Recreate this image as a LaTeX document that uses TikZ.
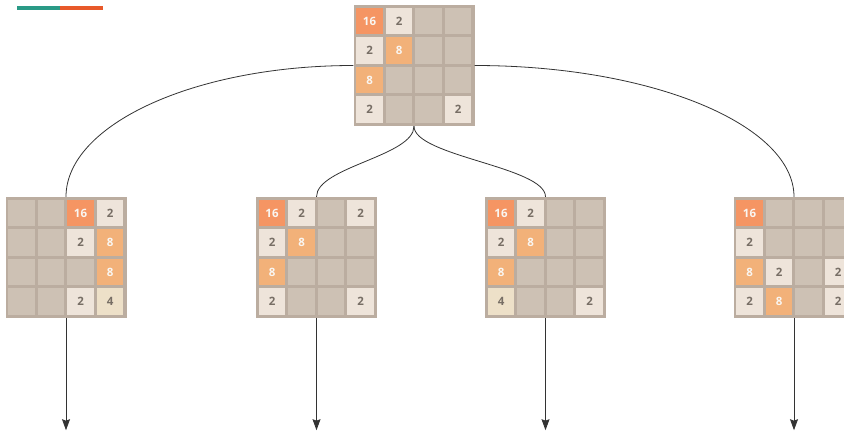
\documentclass[tikz,border=0pt]{standalone}
\usepackage{fontspec}
\setsansfont{Open Sans}
\usetikzlibrary{calc, arrows.meta, positioning}

\definecolor{gridbg}{HTML}{BBADA0}
\definecolor{emptycell}{HTML}{CDC1B4}
\definecolor{tiletwo}{HTML}{EEE4DA}
\definecolor{tilefour}{HTML}{EDE0C8}
\definecolor{tileeight}{HTML}{F2B179}
\definecolor{tilesixteen}{HTML}{F59563}
\definecolor{darknum}{HTML}{776E65}
\definecolor{lightnum}{HTML}{F9F6F2}
\definecolor{barteal}{HTML}{2A9A86}
\definecolor{barorange}{HTML}{E8592A}

\tikzset{
  board/.style={fill=gridbg, minimum size=121pt, inner sep=0pt},
  cell/.style={minimum size=26.5pt, inner sep=0pt,
    font=\sffamily\bfseries\fontsize{11.5}{13}\selectfont},
  tile0/.style={fill=emptycell},
  tile2/.style={fill=tiletwo, text=darknum},
  tile4/.style={fill=tilefour, text=darknum},
  tile8/.style={fill=tileeight, text=lightnum},
  tile16/.style={fill=tilesixteen, text=lightnum},
  link/.style={draw=black!80, line width=0.8pt},
  move/.style={link, -{Stealth[length=11pt, width=8pt, inset=1.5pt]}}
}

% fill a board node with its 16 tiles, row by row
\newcommand\fillboard[2]{%
  \foreach \v [count=\i from 0] in {#2} {
    \pgfmathtruncatemacro\row{int(\i/4)}
    \pgfmathtruncatemacro\col{mod(\i,4)}
    \node[cell, tile\v] (#1-\row-\col)
      at ($(#1.north west)+({16.25+29.5*\col},{16.25+29.5*\row})$) {\ifnum\v>0 \v\fi};
  }}

\begin{document}
\begin{tikzpicture}[x=1pt, y=-1pt]
    \clip (0,0) rectangle (844,434);

    \fill[barteal] (17,6) rectangle (60,10);
    \fill[barorange] (60,6) rectangle (103,10);

    \node[board] (root) at (414,65.5) {};
    \node[board] (left) at (66,257.5) {};
    \node[board] (down) at (316.5,257.5) {};
    \node[board] (up) at (545.5,257.5) {};
    \node[board] (right) at (794,257.5) {};

    \fillboard{root}{16,2,0,0, 2,8,0,0, 8,0,0,0, 2,0,0,2}
    \fillboard{left}{0,0,16,2, 0,0,2,8, 0,0,0,8, 0,0,2,4}
    \fillboard{down}{16,2,0,2, 2,8,0,0, 8,0,0,0, 2,0,0,2}
    \fillboard{up}{16,2,0,0, 2,8,0,0, 8,0,0,0, 4,0,0,2}
    \fillboard{right}{16,0,0,0, 2,0,0,0, 8,2,0,2, 2,8,0,2}

    \draw[link] (root.west) .. controls +(-159,0) and +(0,-72) .. (left.north);
    \draw[link] (root.east) .. controls +(177,0) and +(0,-72) .. (right.north);
    \draw[link] (root.south) .. controls +(0,30) and +(0,-30) .. (down.north);
    \draw[link] (root.south) .. controls +(0,30) and +(0,-30) .. (up.north);

    \foreach \b in {left, down, up, right} {
      \coordinate (\b-next) at ($(\b.south)+(0,112)$);
      \draw[move] (\b.south) -- (\b-next);
    }
\end{tikzpicture}
\end{document}
